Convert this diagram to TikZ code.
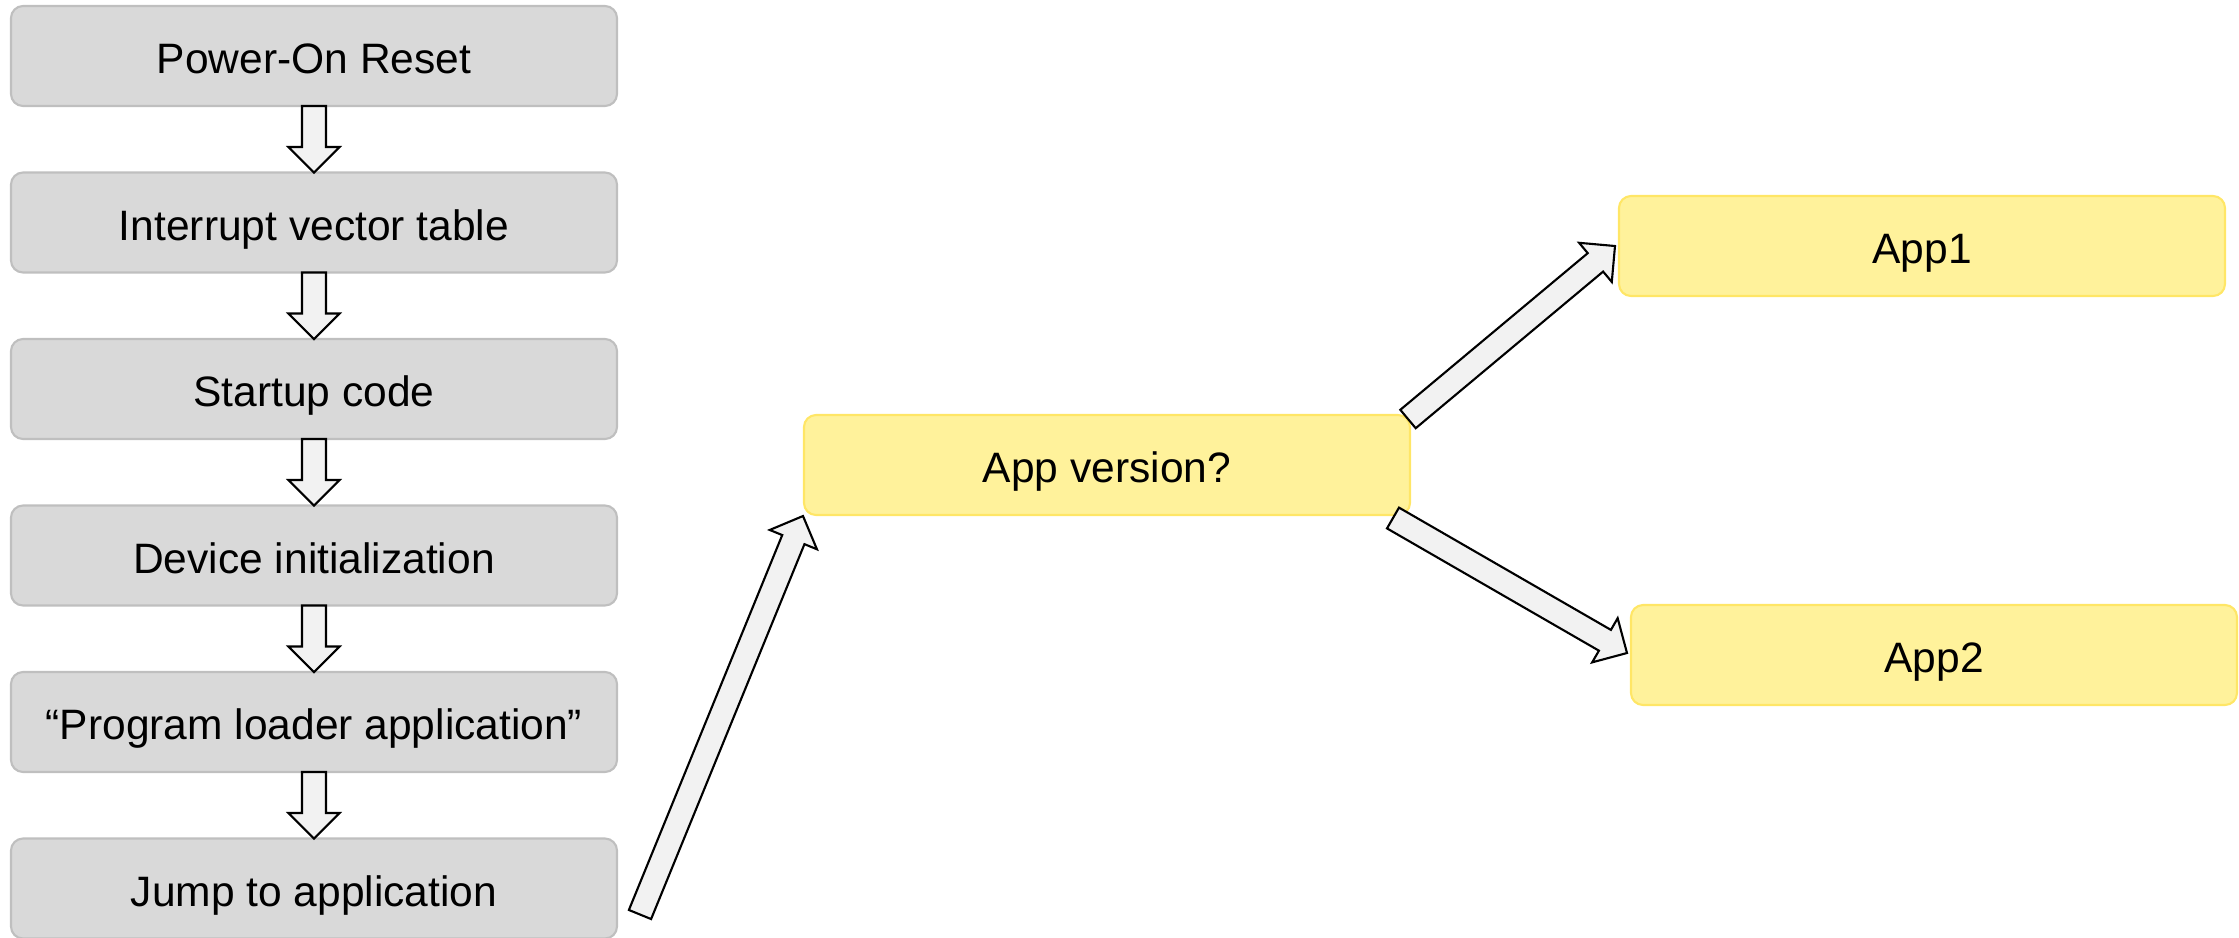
\documentclass[tikz,border=0pt]{standalone}
\usepackage{fontspec}
\setmainfont{Liberation Sans}
\usetikzlibrary{positioning,calc}

\definecolor{boxfill}{HTML}{D9D9D9}
\definecolor{boxline}{HTML}{BFBFBF}
\definecolor{appfill}{HTML}{FFF29B}
\definecolor{appline}{HTML}{FFE666}
\definecolor{arrowfill}{HTML}{F2F2F2}

% hollow block arrow from #1 to #2
\newcommand{\blockarrow}[2]{%
  \coordinate (ba-s) at #1;
  \coordinate (ba-t) at #2;
  \coordinate (ba-h) at ($(ba-t)!0.255cm!(ba-s)$);
  \draw[hollow] ($(ba-s)!0.12cm!90:(ba-t)$) -- ($(ba-h)!0.12cm!90:(ba-t)$)
    -- ($(ba-h)!0.255cm!90:(ba-t)$) -- (ba-t)
    -- ($(ba-h)!0.255cm!-90:(ba-t)$) -- ($(ba-h)!0.12cm!-90:(ba-t)$)
    -- ($(ba-s)!0.12cm!-90:(ba-t)$) -- cycle;
}

\begin{document}
\begin{tikzpicture}[node distance=6.65mm,
  main/.style = {draw=boxline, fill=boxfill, line width=0.6pt, rounded corners=1.2mm,
    minimum width=6.06cm, minimum height=1cm, outer sep=0pt,
    text height=0.35cm, text depth=0cm,
    font=\fontsize{12.1}{14}\selectfont},
  app/.style = {main, draw=appline, fill=appfill},
  hollow/.style = {draw=black, fill=arrowfill, line width=0.6pt, line join=miter}]
\useasboundingbox (0,0) rectangle (22.39,-9.37);

\node[main] (1) at (3.14,-0.56) {Power-On Reset};
\node[main] (2) [below=of 1] {Interrupt vector table};
\node[main] (3) [below=of 2] {Startup code};
\node[main] (4) [below=of 3] {Device initialization};
\node[main] (5) [below=of 4] {“Program loader application”};
\node[main] (6) [below=of 5] {Jump to application};

\node[app] (7) at (11.07,-4.65) {App version?};
\node[app] (8) at (19.22,-2.46) {App1};
\node[app] (9) at (19.34,-6.55) {App2};

\foreach \a/\b in {1/2,2/3,3/4,4/5,5/6}
  \blockarrow{(\a.south)}{(\b.north)};

\blockarrow{($(6.east)+(0.23,-0.26)$)}{($(7.south west)+(-0.01,-0.01)$)}
\blockarrow{($(7.north east)+(-0.02,-0.04)$)}{($(8.west)+(-0.04,0)$)}
\blockarrow{($(7.south east)+(-0.17,-0.03)$)}{($(9.west)+(-0.04,0.02)$)}

\end{tikzpicture}
\end{document}
